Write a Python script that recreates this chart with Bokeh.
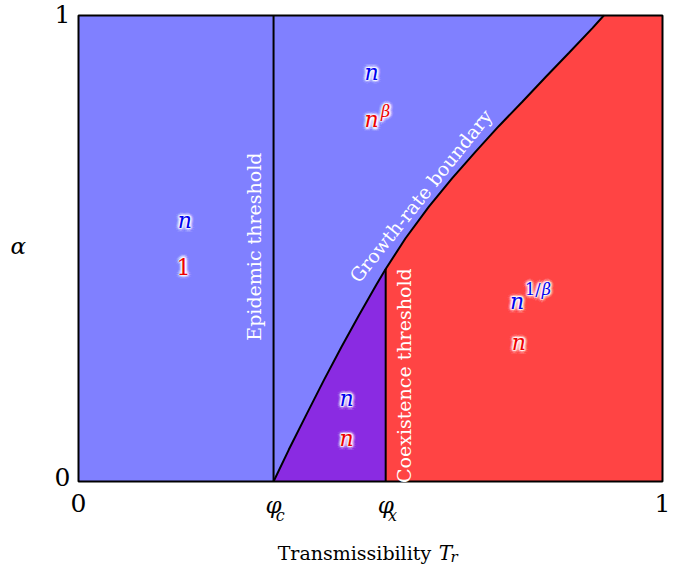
import math
from bokeh.plotting import figure
from bokeh.models import Label, Range1d
from bokeh.embed import file_html
from bokeh.resources import INLINE

# ---------------- data ----------------
phi_c = 0.334
phi_x = 0.526
boundary_T = [0.334, 0.36, 0.39, 0.42, 0.45, 0.48, 0.51, 0.526, 0.56, 0.60, 0.64,
              0.68, 0.72, 0.76, 0.80, 0.84, 0.88, 0.8995]
boundary_alpha = [0.0, 0.068, 0.143, 0.217, 0.288, 0.356, 0.422, 0.456, 0.522, 0.590, 0.651,
                  0.708, 0.763, 0.815, 0.868, 0.920, 0.973, 1.0]
x_ticks = [0.0, phi_c, phi_x, 1.0]
x_tick_labels = ["0", "φ", "φ", "1"]
x_tick_subs = ["", "c", "x", ""]
y_ticks = [0.0, 1.0]
y_tick_labels = ["0", "1"]

FONT = "DejaVu Serif"
BLUE_BG = "#8080ff"
RED_BG = "#ff4444"
PURPLE_BG = "#8a2be2"

# ---------------- layout ----------------
W, H = 670, 568
FL, FT, FW, FH = 78, 15, 584, 466   # plot box in canvas pixels
x0 = -FL / FW
x1 = x0 + W / FW
y1 = 1 + FT / FH
y0 = y1 - H / FH

p = figure(width=W, height=H, x_range=Range1d(x0, x1), y_range=Range1d(y0, y1),
           output_backend="svg", toolbar_location=None,
           x_axis_location=None, y_axis_location=None,
           min_border=0, min_border_left=0, min_border_right=0,
           min_border_top=0, min_border_bottom=0)
p.grid.visible = False
p.background_fill_color = "white"
p.border_fill_color = "white"
p.outline_line_color = None

ix = boundary_T.index(phi_x)
p.quad(left=[0.0], right=[1.0], bottom=[0.0], top=[1.0], fill_color=BLUE_BG, line_color=None)
px = [phi_c] + boundary_T[:ix + 1] + [phi_x]
py = [0.0] + boundary_alpha[:ix + 1] + [0.0]
p.patch(px, py, fill_color=PURPLE_BG, line_color=None)
rx = boundary_T[ix:] + [1.0, 1.0, phi_x]
ry = boundary_alpha[ix:] + [1.0, 0.0, 0.0]
p.patch(rx, ry, fill_color=RED_BG, line_color=None)

p.line(boundary_T, boundary_alpha, line_color="black", line_width=2)
p.segment(x0=[phi_c], y0=[0.0], x1=[phi_c], y1=[1.0], line_color="black", line_width=2)
p.segment(x0=[phi_x], y0=[0.0], x1=[phi_x], y1=[boundary_alpha[ix]], line_color="black", line_width=2)
p.quad(left=[0.0], right=[1.0], bottom=[0.0], top=[1.0], fill_color=None,
       line_color="black", line_width=2)


def lab(x, y, text, color="black", size=24, style="normal", align="center",
        baseline="middle", angle=0.0, glow=False):
    if glow:
        for r, a in [(4.0, 0.10), (2.6, 0.20), (1.3, 0.35)]:
            for k in range(12):
                th = 2 * math.pi * k / 12
                p.add_layout(Label(x=x, y=y, text=text, x_offset=r * math.cos(th),
                                   y_offset=r * math.sin(th), text_color="white",
                                   text_alpha=a, text_font=FONT, text_font_size=f"{size}px",
                                   text_font_style=style, text_align=align,
                                   text_baseline=baseline, angle=angle))
    p.add_layout(Label(x=x, y=y, text=text, text_color=color, text_font=FONT,
                       text_font_size=f"{size}px", text_font_style=style, text_align=align,
                       text_baseline=baseline, angle=angle))


# tick labels
for t, s, sub in zip(x_ticks, x_tick_labels, x_tick_subs):
    if sub:
        lab(t, -0.0515, s, size=23, style="italic")
        lab(t + 0.0115, -0.072, sub, size=16, style="italic")
    else:
        lab(t, -0.047, s, size=25)
for t, s in zip(y_ticks, y_tick_labels):
    lab(-0.0274, t + (0.0086 if t == 0 else 0.004), s, size=25)

# axis titles
lab(0.341, -0.1545, "Transmissibility", size=19, align="left")
lab(0.617, -0.1545, "T", size=20, style="italic", align="left")
lab(0.637, -0.163, "r", size=15, style="italic", align="left")
lab(-0.103, 0.506, "α", size=23, style="italic")

# boundary labels
lab(0.301, 0.504, "Epidemic threshold", color="white", size=19, angle=math.pi / 2)
lab(0.557, 0.227, "Coexistence threshold", color="white", size=19, angle=math.pi / 2)
lab(0.586, 0.613, "Growth-rate boundary", color="white", size=19, angle=math.radians(51.3))

# region labels
BL = "#0000ee"
RD = "#ee0000"
lab(0.182, 0.560, "n", color=BL, size=22, style="italic", glow=True)
lab(0.180, 0.461, "1", color=RD, size=22, glow=True)
lab(0.502, 0.878, "n", color=BL, size=22, style="italic", glow=True)
lab(0.502, 0.776, "n", color=RD, size=22, style="italic", glow=True)
lab(0.526, 0.794, "β", color=RD, size=16, style="italic", glow=True)
lab(0.751, 0.386, "n", color=BL, size=22, style="italic", glow=True)
lab(0.778, 0.412, "1/", color=BL, size=16, glow=True)
lab(0.801, 0.412, "β", color=BL, size=16, style="italic", glow=True)
lab(0.754, 0.298, "n", color=RD, size=22, style="italic", glow=True)
lab(0.459, 0.178, "n", color=BL, size=22, style="italic", glow=True)
lab(0.459, 0.092, "n", color=RD, size=22, style="italic", glow=True)

open("out.html", "w").write(file_html(p, INLINE))
